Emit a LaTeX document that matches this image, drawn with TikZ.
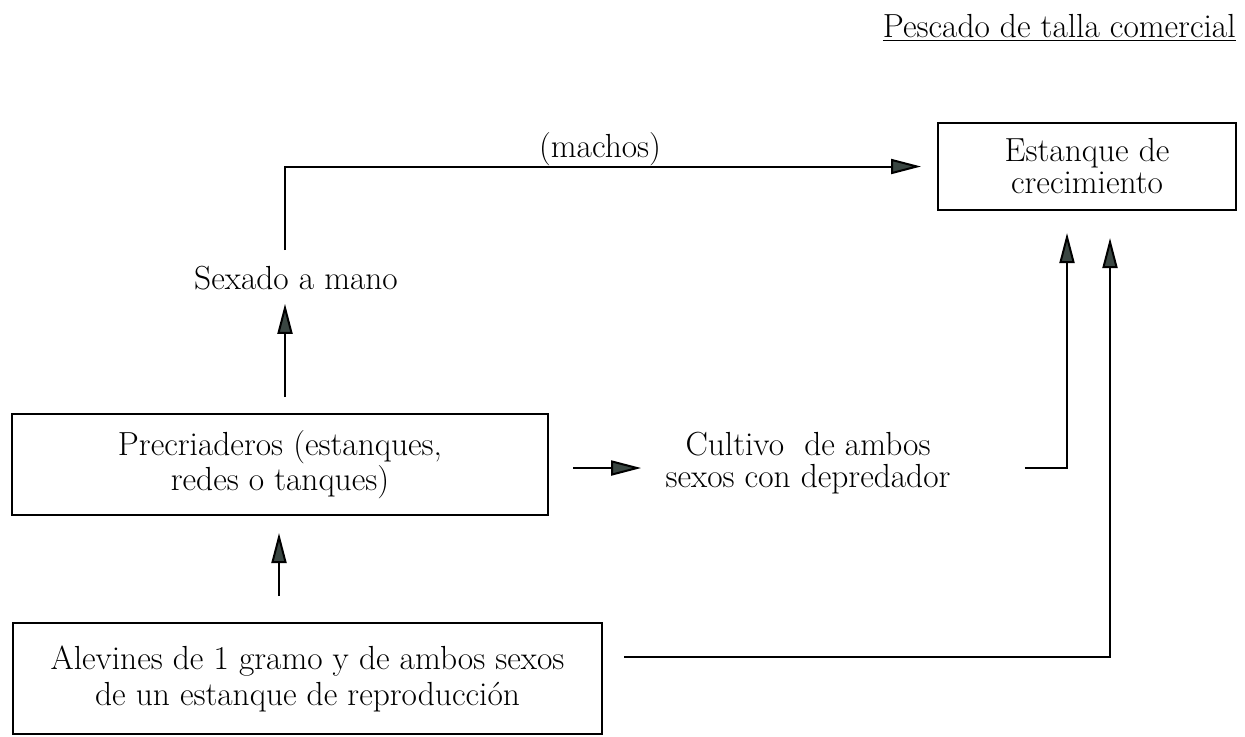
\documentclass[tikz,border=0pt]{standalone}
\usetikzlibrary{arrows.meta,positioning}

\definecolor{tipgray}{RGB}{58,70,66}

\begin{document}
\begin{tikzpicture}[x=0.5pt,y=-0.5pt,
  font=\fontsize{16.7}{17.5}\selectfont,
  box/.style={draw,line width=1pt,inner sep=0pt,align=center},
  txt/.style={inner sep=0pt,align=center},
  flow/.style={line width=1pt,-{Triangle[length=15pt,width=7.5pt,fill=tipgray]}}]
\useasboundingbox (0,0) rectangle (1245,736);

\node[anchor=base east,inner sep=0pt] (titulo) at (1236,37) {\underline{Pescado de talla comercial}};

% cajas
\node[box,minimum width=149pt,minimum height=43.5pt,font=\fontsize{16.7}{16}\selectfont] (crec) at (1087,166.5) {Estanque de\\crecimiento};
\node[box,minimum width=268pt,minimum height=50.5pt] (prec) at (280,464.5) {Precriaderos (estanques,\\redes o tanques)};
\node[box,minimum width=294.5pt,minimum height=55.5pt,font=\fontsize{16.7}{18}\selectfont] (alev) at (307.5,678.5) {Alevines de 1 gramo y de ambos sexos\\de un estanque de reproducci\'on};

% textos sueltos
\node[txt] (sexado) at (296,278.5) {Sexado a mano};
\node[txt,font=\fontsize{16.7}{16}\selectfont] (cult) at (808,463.5) {Cultivo~ de ambos\\sexos con depredador};
\node[anchor=base,inner sep=0pt] (machos) at (600,157) {(machos)};

\coordinate (eje) at (285,0);
\coordinate (eje2) at (279,0);
\coordinate (flecha) at (0,468);
\coordinate (ramal) at (0,657);

% flechas
\draw[flow,shorten <=13pt,shorten >=8.5pt] (alev.north -| eje2) -- (prec.south -| eje2);
\draw[flow,shorten <=8pt,shorten >=6.5pt] (prec.north -| eje) -- (sexado.south -| eje);
\draw[flow,shorten <=8pt,shorten >=8pt] (sexado.north -| eje) |- (crec.west);
\draw[flow,shorten <=12pt,shorten >=12pt] (prec.east |- flecha) -- (cult.west |- flecha);
\draw[flow,shorten <=37pt,shorten >=11pt] (cult.east |- flecha) -| ([xshift=-10pt]crec.south);
\draw[flow,shorten <=10.5pt,shorten >=13.5pt] (alev.east |- ramal) -| ([xshift=11.5pt]crec.south);
\end{tikzpicture}
\end{document}
